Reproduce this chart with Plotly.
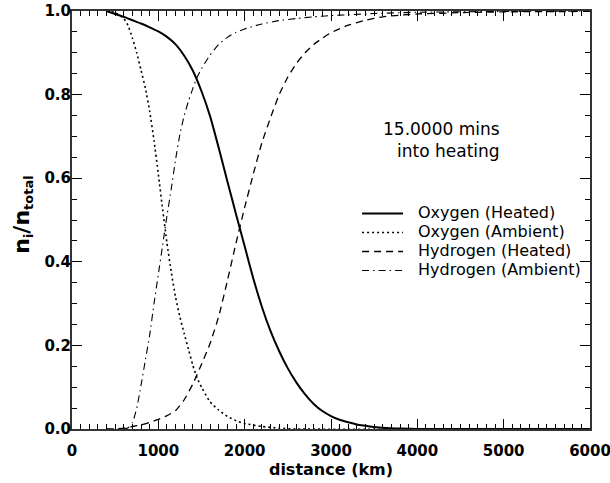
import plotly.graph_objects as go

# Oxygen (Heated)
ox_h_x = [400, 500, 600, 700, 800, 900, 1000, 1100, 1200, 1300, 1400, 1500, 1600, 1700, 1800, 1900, 2000,
          2100, 2200, 2300, 2400, 2500, 2600, 2700, 2800, 2900, 3000, 3100, 3200, 3300, 3400, 3500, 3600,
          3800, 4000, 6000]
ox_h_y = [1.000, 0.993, 0.986, 0.978, 0.970, 0.961, 0.951, 0.938, 0.920, 0.893, 0.857, 0.808, 0.748, 0.672,
          0.592, 0.514, 0.437, 0.360, 0.292, 0.234, 0.186, 0.145, 0.111, 0.083, 0.060, 0.043, 0.031, 0.022,
          0.016, 0.011, 0.008, 0.005, 0.003, 0.001, 0.0, 0.0]

# Oxygen (Ambient)
ox_a_x = [400, 500, 600, 650, 700, 750, 800, 850, 900, 950, 1000, 1050, 1100, 1150, 1200, 1250, 1300, 1350,
          1400, 1450, 1500, 1600, 1700, 1800, 1900, 2000, 2200, 2400, 2600, 6000]
ox_a_y = [1.0, 0.996, 0.982, 0.965, 0.935, 0.900, 0.858, 0.815, 0.760, 0.690, 0.610, 0.525, 0.445, 0.375,
          0.315, 0.268, 0.228, 0.190, 0.152, 0.122, 0.100, 0.065, 0.045, 0.030, 0.020, 0.013, 0.006, 0.002,
          0.0, 0.0]

# Hydrogen (Heated)
hy_h_x = [400, 500, 600, 700, 800, 900, 1000, 1100, 1200, 1300, 1400, 1500, 1600, 1700, 1800, 1900, 2000,
          2100, 2200, 2300, 2400, 2500, 2600, 2700, 2800, 2900, 3000, 3200, 3400, 3600, 3800, 4000, 4500,
          5000, 6000]
hy_h_y = [0.0, 0.0, 0.002, 0.006, 0.010, 0.016, 0.023, 0.032, 0.044, 0.070, 0.108, 0.155, 0.205, 0.270,
          0.355, 0.445, 0.530, 0.610, 0.685, 0.745, 0.800, 0.842, 0.875, 0.900, 0.920, 0.935, 0.948, 0.966,
          0.978, 0.986, 0.990, 0.993, 0.996, 0.998, 0.999]

# Hydrogen (Ambient)
hy_a_x = [400, 600, 650, 700, 750, 800, 850, 900, 950, 1000, 1050, 1100, 1150, 1200, 1250, 1300, 1350,
          1400, 1450, 1500, 1600, 1700, 1800, 1900, 2000, 2200, 2400, 2600, 2800, 3000, 3200, 3500, 4000,
          5000, 6000]
hy_a_y = [0.0, 0.0, 0.003, 0.015, 0.050, 0.105, 0.165, 0.225, 0.300, 0.370, 0.440, 0.510, 0.575, 0.645,
          0.705, 0.750, 0.785, 0.815, 0.842, 0.862, 0.895, 0.920, 0.937, 0.949, 0.957, 0.969, 0.977, 0.982,
          0.986, 0.989, 0.991, 0.994, 0.997, 0.999, 1.0]

series_names = ["Oxygen (Heated)", "Oxygen (Ambient)", "Hydrogen (Heated)", "Hydrogen (Ambient)"]
x_ticks = [0, 1000, 2000, 3000, 4000, 5000, 6000]
y_ticks = [0.0, 0.2, 0.4, 0.6, 0.8, 1.0]

fig = go.Figure()
styles = [
    dict(color="black", width=2, dash="solid"),
    dict(color="black", width=1.6, dash="2px,3px"),
    dict(color="black", width=1.3, dash="7px,5px"),
    dict(color="black", width=1.1, dash="7px,4px,1.5px,4px"),
]
data = [(ox_h_x, ox_h_y), (ox_a_x, ox_a_y), (hy_h_x, hy_h_y), (hy_a_x, hy_a_y)]
for (xs, ys), name, st in zip(data, series_names, styles):
    fig.add_trace(go.Scatter(x=xs, y=ys, mode="lines", name=name, showlegend=False,
                             line=dict(shape="spline", smoothing=0.5, **st)))

# Legend drawn as sample lines + labels
leg_x0, leg_x1, leg_tx = 0.56, 0.639, 0.664
leg_rows = [0.5156, 0.4701, 0.4246, 0.3792]
for name, st, yy in zip(series_names, styles, leg_rows):
    fig.add_shape(type="line", xref="paper", yref="paper", x0=leg_x0, x1=leg_x1, y0=yy, y1=yy,
                  line=dict(color=st["color"], width=st["width"], dash=st["dash"]))
    fig.add_annotation(text=name, xref="paper", yref="paper", x=leg_tx, y=yy + 0.003,
                       xanchor="left", yanchor="middle", showarrow=False,
                       font=dict(family="DejaVu Sans", size=16, color="black"))

tickfont = dict(family="DejaVu Sans", size=15, color="black", weight="bold")
fig.update_xaxes(range=[0, 6000], tickvals=x_ticks, ticktext=[str(v) for v in x_ticks],
                 ticks="inside", ticklen=10, tickwidth=1, tickcolor="black",
                 minor=dict(ticks="inside", ticklen=5, dtick=100, tickcolor="black", tickwidth=1),
                 showline=True, linewidth=2, linecolor="#333", mirror="ticks",
                 showgrid=False, zeroline=False, tickfont=tickfont, automargin=False,
                 ticklabeloverflow="allow", ticklabelstandoff=7,
                 title=dict(text="distance (km)", font=dict(family="DejaVu Sans", size=16, color="black", weight="bold"), standoff=4))
fig.update_yaxes(range=[0, 1.0], tickvals=y_ticks, ticktext=["%.1f" % v for v in y_ticks],
                 ticks="inside", ticklen=10, tickwidth=1, tickcolor="black",
                 minor=dict(ticks="inside", ticklen=5, dtick=0.05, tickcolor="black", tickwidth=1),
                 showline=True, linewidth=2, linecolor="#333", mirror="ticks",
                 showgrid=False, zeroline=False, tickfont=tickfont, automargin=False,
                 ticklabeloverflow="allow", ticklabelstandoff=-4)

fig.add_annotation(text="n<sub><span style='font-size:13px'>i</span></sub>/n<sub><span style='font-size:13px'>total</span></sub>",
                   xref="paper", yref="paper", x=-0.095, y=0.512, textangle=-90,
                   showarrow=False, xanchor="center", yanchor="middle",
                   font=dict(family="DejaVu Sans", size=22, color="black", weight="bold"))
fig.add_annotation(text="15.0000 mins<br>into heating", xref="paper", yref="paper",
                   x=0.831, y=0.692, xanchor="right", yanchor="middle", align="right",
                   showarrow=False, font=dict(family="DejaVu Sans", size=17, color="black"))

fig.update_layout(width=610, height=483, autosize=False,
                  margin=dict(l=72, r=20, t=11, b=54, pad=0, autoexpand=False),
                  plot_bgcolor="white", paper_bgcolor="white",
                  showlegend=False)

fig.write_html("out.html")
